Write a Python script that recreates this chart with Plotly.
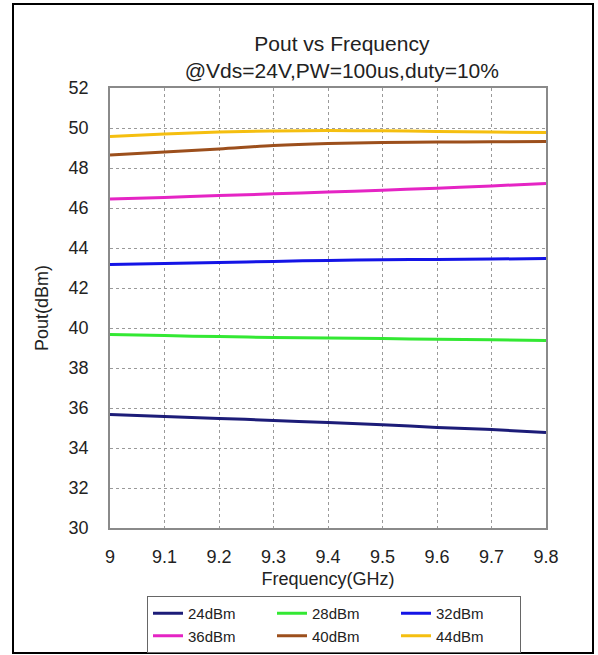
import plotly.graph_objects as go

freq = [9.0, 9.1, 9.2, 9.3, 9.4, 9.5, 9.6, 9.7, 9.8]
p24 = [35.68, 35.58, 35.48, 35.38, 35.27, 35.16, 35.03, 34.92, 34.78]
p28 = [39.67, 39.62, 39.57, 39.53, 39.50, 39.47, 39.44, 39.41, 39.37]
p32 = [43.18, 43.23, 43.28, 43.33, 43.38, 43.41, 43.43, 43.45, 43.47]
p36 = [46.45, 46.53, 46.62, 46.71, 46.80, 46.89, 46.99, 47.10, 47.23]
p40 = [48.65, 48.80, 48.95, 49.12, 49.22, 49.27, 49.30, 49.31, 49.32]
p44 = [49.57, 49.70, 49.80, 49.85, 49.87, 49.86, 49.83, 49.80, 49.77]

names = ["24dBm", "28dBm", "32dBm", "36dBm", "40dBm", "44dBm"]
series = [p24, p28, p32, p36, p40, p44]
colors = ["#1c1c78", "#33e833", "#1414e6", "#e524c4", "#9c4f1c", "#f5bf10"]

x_ticks = [9.0, 9.1, 9.2, 9.3, 9.4, 9.5, 9.6, 9.7, 9.8]
x_ticktext = ["9", "9.1", "9.2", "9.3", "9.4", "9.5", "9.6", "9.7", "9.8"]
y_ticks = [30, 32, 34, 36, 38, 40, 42, 44, 46, 48, 50, 52]

FONT = "Liberation Sans, Arial, sans-serif"
TXT = "#222222"

fig = go.Figure()
for n, s, c in zip(names, series, colors):
    fig.add_trace(go.Scatter(x=freq, y=s, name=n, mode="lines",
                             line=dict(color=c, width=3, shape="spline")))

W, H = 598, 655
L, R, T, B = 110, 52, 88, 127
pw, ph = W - L - R, H - T - B

def px2x(px):
    return (px - L) / pw

def py2y(py):
    return (H - B - py) / ph

fig.update_layout(
    width=W, height=H,
    margin=dict(l=L, r=R, t=T, b=B, autoexpand=False),
    paper_bgcolor="white", plot_bgcolor="white",
    font=dict(family=FONT, color=TXT),
    title=dict(text="Pout vs Frequency<br>@Vds=24V,PW=100us,duty=10%",
               x=318 / W, xanchor="center", xref="paper",
               y=1 - 51 / H, yanchor="middle",
               font=dict(size=21, family=FONT, color=TXT)),
    xaxis=dict(range=[9.0, 9.8], tickvals=x_ticks, ticktext=x_ticktext,
               showgrid=True, gridcolor="#9a9a9a", griddash="dot", gridwidth=1,
               showline=True, linecolor="#8a8a8a", linewidth=1.5, mirror=True,
               zeroline=False, ticks="", ticklabelstandoff=12,
               tickfont=dict(size=18, family=FONT, color=TXT),
               title=dict(text="Frequency(GHz)", standoff=6,
                          font=dict(size=18, family=FONT, color=TXT))),
    yaxis=dict(range=[30, 52], tickvals=y_ticks,
               showgrid=True, gridcolor="#9a9a9a", griddash="dot", gridwidth=1,
               showline=True, linecolor="#8a8a8a", linewidth=1.5, mirror=True,
               zeroline=False, ticks="", ticklabelstandoff=16,
               tickfont=dict(size=18, family=FONT, color=TXT),
               title=dict(text="Pout(dBm)", standoff=15,
                          font=dict(size=18, family=FONT, color=TXT))),
    legend=dict(orientation="h", x=px2x(147), y=py2y(596), xanchor="left", yanchor="top",
                bordercolor="#666666", borderwidth=1, bgcolor="white",
                entrywidth=79, entrywidthmode="pixels", tracegroupgap=0,
                font=dict(size=15, family=FONT, color=TXT), itemwidth=30),
    shapes=[dict(type="rect", xref="paper", yref="paper",
                 x0=px2x(13), x1=px2x(593), y0=py2y(653), y1=py2y(4),
                 line=dict(color="black", width=2), fillcolor="rgba(0,0,0,0)",
                 layer="below")],
)

fig.write_html("out.html", config={"displayModeBar": False},
               post_script="document.body.style.margin='0';document.body.style.overflow='hidden';")
